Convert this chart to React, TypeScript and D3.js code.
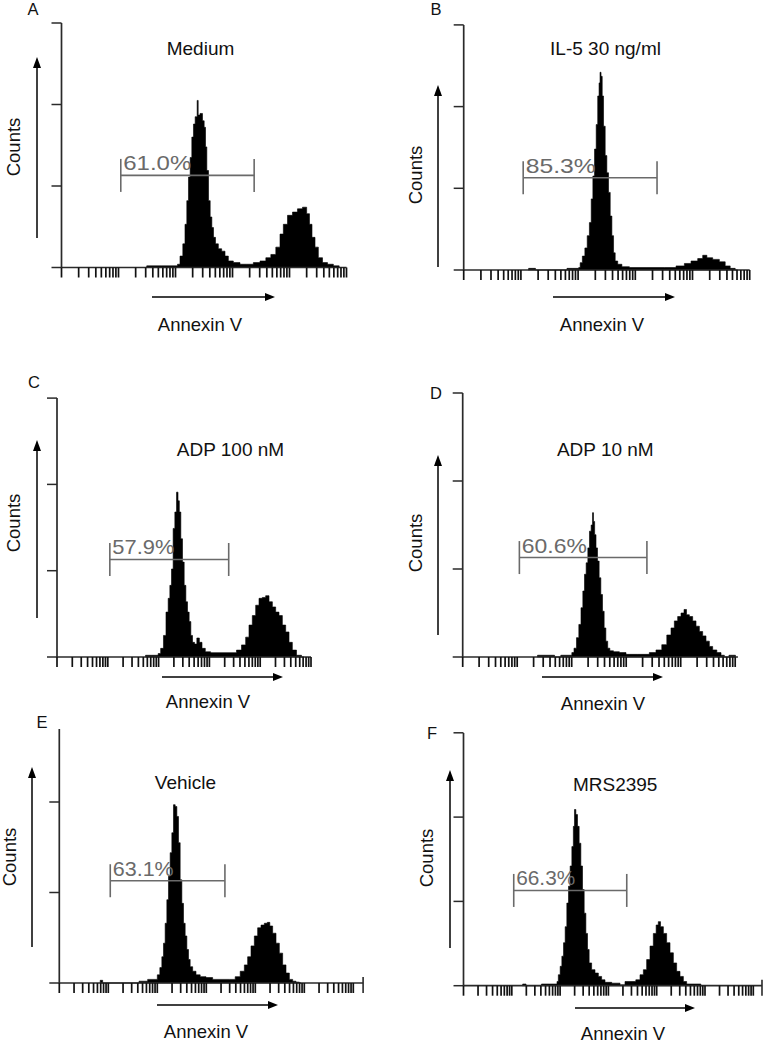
import React from 'react';
import * as d3 from 'd3';

type Pt = [number, number]; // [log10 Annexin V intensity, counts]

const panelLetters = ['A', 'B', 'C', 'D', 'E', 'F'];
const panelTitles = ['Medium', 'IL-5 30 ng/ml', 'ADP 100 nM', 'ADP 10 nM', 'Vehicle', 'MRS2395'];
const gateLabels = ['61.0%', '85.3%', '57.9%', '60.6%', '63.1%', '66.3%'];
const gateRange: [number, number] = [1.04, 3.38];
const gateLevel = 113;
const countTicks = [0, 100, 200, 300];
const xAxisLabel = 'Annexin V';
const yAxisLabel = 'Counts';

const histMedium: Pt[] = [
  [1.49, 0], [1.5, 2], [2.02, 2], [2.05, 4], [2.108, 14], [2.149, 29], [2.184, 53], [2.213, 82], [2.243, 111],
  [2.272, 135], [2.301, 160], [2.33, 176], [2.36, 185], [2.377, 185], [2.383, 205], [2.395, 205], [2.401, 187],
  [2.459, 189], [2.488, 180], [2.518, 172], [2.535, 148], [2.564, 119], [2.594, 82], [2.623, 62], [2.652, 49],
  [2.681, 37], [2.722, 29], [2.781, 23], [2.839, 20], [2.898, 14], [2.956, 8], [3.073, 6], [3.19, 4], [3.307, 4],
  [3.424, 6], [3.541, 8], [3.629, 12], [3.716, 16], [3.804, 25], [3.863, 41], [3.921, 53], [4.009, 64], [4.096, 68],
  [4.184, 72], [4.272, 74], [4.33, 66], [4.371, 53], [4.418, 37], [4.477, 25], [4.535, 12], [4.623, 6], [4.711, 4],
  [4.828, 2], [4.915, 0],
];

const histIL5: Pt[] = [
  [1.13, 0], [1.14, 2], [1.25, 2], [1.26, 0], [1.8, 0], [1.81, 2], [2.0, 2], [2.022, 3], [2.051, 9], [2.098, 17],
  [2.139, 27], [2.18, 42], [2.215, 58], [2.244, 87], [2.273, 115], [2.302, 148], [2.331, 178], [2.355, 213],
  [2.378, 229], [2.389, 242], [2.413, 237], [2.43, 213], [2.459, 176], [2.488, 140], [2.517, 119], [2.547, 95],
  [2.576, 66], [2.605, 42], [2.634, 21], [2.663, 11], [2.722, 7], [2.809, 4], [2.984, 3], [3.392, 3], [3.625, 3],
  [3.8, 5], [3.916, 8], [4.033, 11], [4.149, 14], [4.208, 18], [4.295, 15], [4.411, 13], [4.528, 10], [4.615, 5],
  [4.703, 2], [4.79, 0],
];

const histADP100: Pt[] = [
  [1.74, 0], [1.745, 2], [1.975, 2], [2.008, 4], [2.073, 10], [2.119, 25], [2.172, 52], [2.205, 68], [2.238, 83],
  [2.27, 102], [2.303, 149], [2.337, 168], [2.369, 191], [2.395, 181], [2.421, 168], [2.454, 137], [2.487, 110],
  [2.52, 83], [2.553, 64], [2.585, 52], [2.618, 41], [2.651, 25], [2.684, 17], [2.73, 15], [2.776, 22], [2.829, 17],
  [2.88, 10], [2.959, 6], [3.091, 5], [3.484, 5], [3.583, 8], [3.681, 14], [3.747, 23], [3.812, 37], [3.878, 48],
  [3.944, 60], [4.009, 68], [4.075, 69], [4.14, 71], [4.207, 64], [4.272, 58], [4.337, 52], [4.403, 48], [4.469, 37],
  [4.534, 29], [4.6, 17], [4.665, 8], [4.764, 2], [4.862, 0],
];

const histADP10: Pt[] = [
  [1.37, 0], [1.376, 2], [1.681, 2], [1.69, 0], [1.795, 0], [1.804, 2], [1.987, 2], [2.018, 5], [2.066, 10],
  [2.11, 22], [2.152, 37], [2.189, 56], [2.22, 75], [2.25, 94], [2.281, 107], [2.312, 124], [2.341, 143],
  [2.373, 150], [2.391, 164], [2.409, 154], [2.433, 139], [2.459, 124], [2.488, 109], [2.519, 90], [2.55, 71],
  [2.58, 52], [2.611, 33], [2.642, 18], [2.679, 10], [2.721, 7], [2.813, 6], [2.936, 5], [3.057, 3], [3.363, 3],
  [3.486, 5], [3.607, 8], [3.699, 14], [3.791, 25], [3.853, 33], [3.914, 41], [3.975, 46], [4.037, 50], [4.085, 54],
  [4.128, 48], [4.189, 46], [4.25, 41], [4.312, 35], [4.373, 29], [4.433, 24], [4.495, 18], [4.556, 12], [4.617, 8],
  [4.709, 5], [4.771, 2], [4.831, 0], [4.88, 0], [4.89, 2], [5.0, 2], [5.01, 0],
];

const histVehicle: Pt[] = [
  [0.83, 0], [0.84, 3], [0.88, 3], [0.89, 0], [1.62, 0], [1.633, 2], [1.973, 4], [2.028, 9], [2.076, 17],
  [2.11, 29], [2.143, 44], [2.178, 66], [2.212, 92], [2.245, 118], [2.28, 144], [2.314, 166], [2.347, 197],
  [2.382, 195], [2.416, 184], [2.449, 155], [2.484, 114], [2.518, 88], [2.551, 66], [2.586, 52], [2.62, 37],
  [2.653, 26], [2.688, 18], [2.755, 13], [2.824, 9], [2.927, 7], [3.061, 6], [3.198, 4], [3.402, 4], [3.539, 4],
  [3.641, 7], [3.743, 13], [3.81, 20], [3.878, 29], [3.947, 41], [4.014, 52], [4.082, 61], [4.151, 64], [4.218, 66],
  [4.273, 67], [4.32, 63], [4.388, 55], [4.457, 44], [4.524, 33], [4.592, 20], [4.661, 11], [4.729, 4], [4.796, 2],
  [4.865, 1], [4.933, 0],
];

const histMRS2395: Pt[] = [
  [1.22, 0], [1.23, 2], [1.29, 2], [1.3, 0], [1.61, 0], [1.618, 2], [1.929, 2], [1.943, 5], [1.984, 13], [2.019, 23],
  [2.054, 35], [2.088, 51], [2.122, 70], [2.157, 98], [2.191, 118], [2.226, 142], [2.261, 165], [2.288, 189],
  [2.308, 209], [2.344, 203], [2.377, 189], [2.412, 169], [2.447, 142], [2.481, 114], [2.516, 86], [2.551, 62],
  [2.584, 43], [2.619, 27], [2.687, 19], [2.758, 15], [2.826, 11], [2.894, 7], [2.965, 4], [3.172, 3], [3.309, 1],
  [3.379, 5], [3.516, 5], [3.619, 7], [3.69, 13], [3.758, 19], [3.826, 31], [3.896, 47], [3.965, 62], [4.012, 72],
  [4.054, 76], [4.104, 70], [4.172, 62], [4.24, 51], [4.311, 39], [4.379, 27], [4.447, 17], [4.518, 11], [4.586, 5],
  [4.654, 2], [4.896, 2], [4.932, 0],
];

const histograms: Pt[][] = [histMedium, histIL5, histADP100, histADP10, histVehicle, histMRS2395];

// Layout (pixel placement of each panel)
interface Layout {
  x0: number; decPx: number; axisDec: number; bottom: number; axisTop: number; ppc: number;
  letter: [number, number]; title: [number, number]; counts: [number, number];
  yArrow: [number, number, number]; xArrow: [number, number, number]; xLabel: [number, number];
  endCap: boolean; pctW: number;
}

const layouts: Layout[] = [
  { x0: 61.5, decPx: 57, axisDec: 5, bottom: 267.5, axisTop: 23, ppc: 0.815, letter: [33, 15], title: [200.5, 55], counts: [13.3, 147], yArrow: [37, 238, 57], xArrow: [152, 275, 297], xLabel: [200, 331], endCap: false, pctW: 68 },
  { x0: 463.7, decPx: 57.2, axisDec: 5, bottom: 270, axisTop: 25, ppc: 0.817, letter: [436, 15], title: [605.5, 55], counts: [415, 175], yArrow: [438, 267, 85], xArrow: [553, 675, 297], xLabel: [602, 331], endCap: false, pctW: 70 },
  { x0: 57, decPx: 50.8, axisDec: 5, bottom: 657, axisTop: 398, ppc: 0.863, letter: [34, 388], title: [230.5, 456], counts: [13, 523], yArrow: [37, 618, 440], xArrow: [162, 283, 677], xLabel: [208, 708], endCap: false, pctW: 62 },
  { x0: 462.7, decPx: 54.5, axisDec: 5.05, bottom: 657, axisTop: 393, ppc: 0.88, letter: [436, 399], title: [605.3, 456], counts: [415, 543], yArrow: [438, 635, 455], xArrow: [542, 663, 677], xLabel: [603, 710], endCap: false, pctW: 65 },
  { x0: 59.3, decPx: 49, axisDec: 6.2, bottom: 983, axisTop: 729, ppc: 0.905, letter: [42, 728], title: [185.5, 789], counts: [9, 857], yArrow: [32, 947, 767], xArrow: [157, 278, 1005], xLabel: [206, 1038], endCap: true, pctW: 61 },
  { x0: 463.5, decPx: 48.3, axisDec: 6.18, bottom: 985.7, axisTop: 733, ppc: 0.843, letter: [432, 739], title: [615.2, 791], counts: [426, 858], yArrow: [450, 948, 770], xArrow: [575, 695, 1008], xLabel: [623, 1040], endCap: true, pctW: 59 },
];

const FONT = 'Liberation Sans, Arial, Helvetica, sans-serif';
const AXIS = '#2a2a2a';
const GATE = '#6a6a6a';

function Panel({ i }: { i: number }) {
  const L = layouts[i];
  const data = histograms[i];
  const x = d3.scaleLinear().domain([0, L.axisDec]).range([L.x0, L.x0 + L.axisDec * L.decPx]);
  const y = d3.scaleLinear().domain([0, 300]).range([L.bottom, L.bottom - 300 * L.ppc]);
  const area = d3.area<Pt>().x(d => x(d[0])).y0(y(0)).y1(d => y(d[1])).curve(d3.curveStep);
  const logScale = d3.scaleLog().domain([1, Math.pow(10, L.axisDec)]);
  const xTicks = logScale.ticks().map(t => Math.log10(t)).filter(v => v <= L.axisDec + 1e-6);
  const yTicks = countTicks.filter(v => y(v) >= L.axisTop - 0.5);
  const xEnd = x(L.axisDec);
  const [ax, ay0, ay1] = L.yArrow;
  const [bx0, bx1, by] = L.xArrow;
  const gx0 = x(gateRange[0]);
  const gx1 = x(gateRange[1]);
  const gy = y(gateLevel);
  const fs = 18.5;
  return (
    <g>
      <text x={L.letter[0]} y={L.letter[1]} fontSize={16.5} fontFamily={FONT} textAnchor="middle" fill="#111">{panelLetters[i]}</text>
      <text x={L.title[0]} y={L.title[1]} fontSize={19} fontFamily={FONT} textAnchor="middle" fill="#111">{panelTitles[i]}</text>
      <text transform={`translate(${L.counts[0] + 0.36 * fs},${L.counts[1]}) rotate(-90)`} fontSize={fs} fontFamily={FONT} textAnchor="middle" fill="#111">{yAxisLabel}</text>
      <text x={L.xLabel[0]} y={L.xLabel[1]} fontSize={fs} fontFamily={FONT} textAnchor="middle" fill="#111">{xAxisLabel}</text>
      {/* counts arrow */}
      <line x1={ax} y1={ay0} x2={ax} y2={ay1 + 8} stroke="#000" strokeWidth={1.5} />
      <path d={`M${ax},${ay1} L${ax - 4},${ay1 + 11} L${ax + 4},${ay1 + 11} Z`} fill="#000" />
      {/* annexin arrow */}
      <line x1={bx0} y1={by} x2={bx1 - 8} y2={by} stroke="#000" strokeWidth={1.5} />
      <path d={`M${bx1},${by} L${bx1 - 10},${by - 4} L${bx1 - 10},${by + 4} Z`} fill="#000" />
      {/* histogram */}
      <path d={area(data) || ''} fill="#000" stroke="#000" strokeWidth={0.6} />
      {/* y axis */}
      <line x1={L.x0} y1={L.axisTop} x2={L.x0} y2={L.bottom} stroke={AXIS} strokeWidth={1.7} />
      {yTicks.map(v => (
        <line key={'y' + v} x1={L.x0 - 10} y1={y(v)} x2={L.x0} y2={y(v)} stroke={AXIS} strokeWidth={1.5} />
      ))}
      {/* x axis */}
      <line x1={L.x0} y1={L.bottom} x2={xEnd} y2={L.bottom} stroke={AXIS} strokeWidth={1.7} />
      {xTicks.map((v, k) => (
        <line key={'x' + k} x1={x(v)} y1={L.bottom} x2={x(v)} y2={L.bottom + 10} stroke="#111" strokeWidth={1.7} />
      ))}
      {L.endCap && <line x1={xEnd} y1={L.bottom - 6} x2={xEnd} y2={L.bottom + 10} stroke={AXIS} strokeWidth={1.6} />}
      {/* gate */}
      <g stroke={GATE} strokeWidth={1.6}>
        <line x1={gx0} y1={gy} x2={gx1} y2={gy} />
        <line x1={gx0} y1={gy - 16.5} x2={gx0} y2={gy + 16.5} />
        <line x1={gx1} y1={gy - 16.5} x2={gx1} y2={gy + 16.5} />
      </g>
      <text x={gx0 + 2.5} y={gy - 5} fontSize={21} fontFamily={FONT} fill={GATE}
        textLength={L.pctW} lengthAdjust="spacingAndGlyphs">{gateLabels[i]}</text>
    </g>
  );
}

export default function App() {
  return (
    <svg width={777} height={1043} viewBox="0 0 777 1043"
      style={{ position: 'absolute', left: 0, top: 0, display: 'block', background: '#fff' }}>
      <rect x={0} y={0} width={777} height={1043} fill="#fff" />
      {layouts.map((_, i) => <Panel key={i} i={i} />)}
    </svg>
  );
}
